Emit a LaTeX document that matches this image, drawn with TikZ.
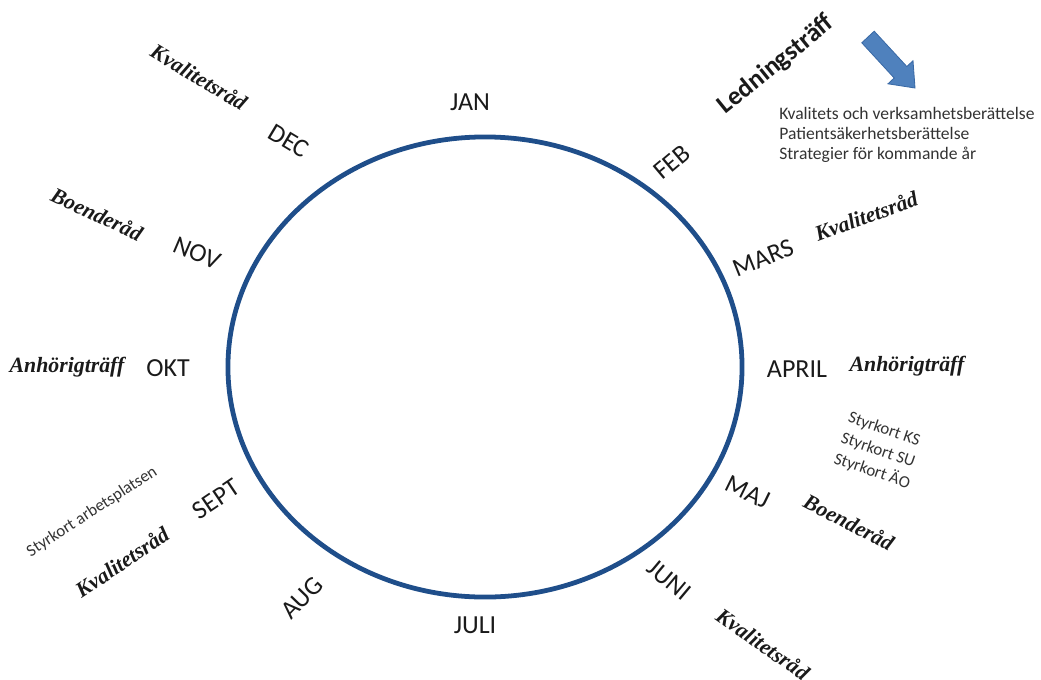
\documentclass[tikz,border=0pt]{standalone}
\usepackage{fontspec}
\setmainfont{Liberation Serif}
\setsansfont{Carlito}
\usetikzlibrary{shapes.geometric}
\definecolor{Ring}{HTML}{1F4E8A}
\definecolor{ArrowFill}{HTML}{4F81BD}
\definecolor{ArrowEdge}{HTML}{3A6AA6}
\definecolor{Ink}{HTML}{1A1A1A}
\definecolor{Soft}{HTML}{333333}
\tikzset{
  month/.style={font=\sffamily\fontsize{18.5}{22}\selectfont,text=Ink,inner sep=0pt},
  event/.style={font=\rmfamily\bfseries\itshape\fontsize{15.5}{18}\selectfont,text=Ink,inner sep=0pt},
  note/.style={font=\sffamily\fontsize{12.5}{14.5}\selectfont,text=Soft,align=left,inner sep=0pt},
  small note/.style={font=\sffamily\fontsize{12}{15.5}\selectfont,text=Soft,align=left,inner sep=0pt},
  ring/.style={draw=Ring,line width=3.4pt,ellipse,inner sep=0pt},
  block arrow/.style={fill=ArrowFill,draw=ArrowEdge,line width=.6pt,line join=miter}
}
\begin{document}
\begin{tikzpicture}[x=0.025cm,y=-0.025cm]
  \useasboundingbox (0,0) rectangle (1041,679);
  % year wheel
  \node[ring,minimum width=12.85cm,minimum height=11.5cm] (ring) at (485,367) {};
  % months
  \node[month] (jan) at (470,102) {JAN};
  \node[month,rotate=40] (feb) at (672,162) {FEB};
  \node[month,rotate=22] (mars) at (763,258) {MARS};
  \node[month] (april) at (797,369) {APRIL};
  \node[month,rotate=-26] (maj) at (748,492) {MAJ};
  \node[month,rotate=-40] (juni) at (669,580) {JUNI};
  \node[month] (juli) at (475,625) {JULI};
  \node[month,rotate=46] (aug) at (302,598) {AUG};
  \node[month,rotate=34] (sept) at (216,499) {SEPT};
  \node[month] (okt) at (168,368) {OKT};
  \node[month,rotate=-23] (nov) at (197,253) {NOV};
  \node[month,rotate=-31] (dec) at (289,141) {DEC};
  % meetings
  \node[event,rotate=-31] (kvalDec) at (199,77) {Kvalitetsråd};
  \node[event,rotate=-25] (boendeNov) at (97,214) {Boenderåd};
  \node[event] (anhOkt) at (67,367) {Anhörigträff};
  \node[small note,rotate=33] (styrSept) at (92,512) {Styrkort arbetsplatsen};
  \node[event,rotate=34] (kvalSept) at (122,562) {Kvalitetsråd};
  \node[event,rotate=20] (kvalMars) at (866,216) {Kvalitetsråd};
  \node[event] (anhApril) at (907,366) {Anhörigträff};
  \node[small note,rotate=-19] (styrApril) at (879,451) {Styrkort KS\\Styrkort SU\\Styrkort ÄO};
  \node[event,rotate=-27] (boendeMaj) at (849,522) {Boenderåd};
  \node[event,rotate=-35] (kvalJuni) at (763,644) {Kvalitetsråd};
  % management meeting
  \node[font=\sffamily\bfseries\fontsize{18.5}{22}\selectfont,text=Ink,inner sep=0pt,rotate=39] (ledning) at (776,65) {Ledningsträff};
  \node[note,anchor=west] (reports) at (779,135) {Kvalitets och verksamhetsberättelse\\Patientsäkerhetsberättelse\\Strategier för kommande år};
  \draw[block arrow] (874.2,31.2) -- (906.8,66.5) -- (913.0,60.8) -- (915,88)
    -- (888.0,83.8) -- (894.2,78.0) -- (861.8,42.8) -- cycle;
\end{tikzpicture}
\end{document}
